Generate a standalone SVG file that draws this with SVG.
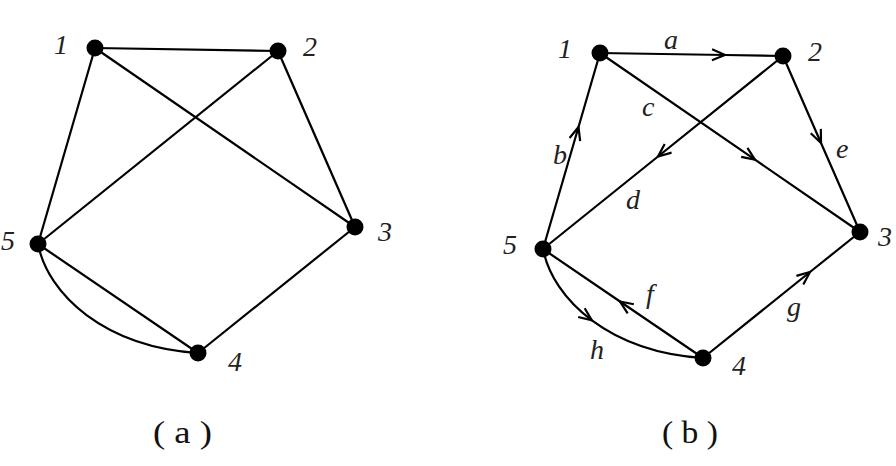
<svg xmlns="http://www.w3.org/2000/svg" width="896" height="466" viewBox="0 0 896 466">
<defs>
<style>
.edge{fill:none;stroke:#000;stroke-width:2.2}
.arr{marker-mid:url(#chev)}
.node{fill:#000}
.lbl{font-family:"Liberation Serif","Times New Roman",serif;font-style:italic;font-size:28px;fill:#222}
.cap{font-family:"Liberation Serif","Times New Roman",serif;font-size:31px;fill:#111}
</style>
<marker id="chev" viewBox="-15 -15 30 30" markerWidth="30" markerHeight="30" refX="0" refY="0" orient="auto" markerUnits="userSpaceOnUse" overflow="visible">
<path d="M-13,-5.5 L0,0 L-13,5.5" fill="none" stroke="#000" stroke-width="2.2"/>
</marker>
</defs>
<rect width="896" height="466" fill="#fff"/>

<!-- Graph (a) -->
<g id="graph-a-edges">
<line class="edge" x1="95" y1="48" x2="278" y2="51"/>
<line class="edge" x1="95" y1="48" x2="355" y2="227"/>
<line class="edge" x1="95" y1="48" x2="38" y2="244"/>
<line class="edge" x1="278" y1="51" x2="355" y2="227"/>
<line class="edge" x1="278" y1="51" x2="38" y2="244"/>
<line class="edge" x1="355" y1="227" x2="198" y2="353"/>
<line class="edge" x1="38" y1="244" x2="198" y2="353"/>
<path class="edge" d="M38,244 C48,295 105,347 198,353"/>
</g>
<g id="a-n1"><circle class="node" cx="95" cy="48" r="8.5"/><text class="lbl" x="54" y="54">1</text></g>
<g id="a-n2"><circle class="node" cx="278" cy="51" r="8.5"/><text class="lbl" x="303" y="56">2</text></g>
<g id="a-n3"><circle class="node" cx="355" cy="227" r="8.5"/><text class="lbl" x="378" y="241">3</text></g>
<g id="a-n4"><circle class="node" cx="198" cy="353" r="8.5"/><text class="lbl" x="228" y="371">4</text></g>
<g id="a-n5"><circle class="node" cx="38" cy="244" r="8.5"/><text class="lbl" x="1" y="250">5</text></g>

<!-- Graph (b) -->
<g id="graph-b-edges">
<path class="edge arr" d="M600,53 L725,55 L783,56"/>
<path class="edge arr" d="M543,249 L578.5,127 L600,53"/>
<path class="edge arr" d="M600,53 L755,159.7 L860,232"/>
<path class="edge arr" d="M783,56 L658,156.5 L543,249"/>
<path class="edge arr" d="M783,56 L821,143 L860,232"/>
<path class="edge arr" d="M703,358 L620,301.5 L543,249"/>
<path class="edge arr" d="M703,358 L810,272 L860,232"/>
<path class="edge arr" d="M543,249 C548,274.5 564.75,300.25 591.875,320.375 C619,340.5 656.5,355 703,358"/>
</g>
<g id="b-edge-labels">
<text class="lbl" x="664" y="49">a</text>
<text class="lbl" x="553" y="164">b</text>
<text class="lbl" x="642" y="116">c</text>
<text class="lbl" x="626" y="209">d</text>
<text class="lbl" x="836" y="158">e</text>
<text class="lbl" x="646" y="303">f</text>
<text class="lbl" x="787" y="316">g</text>
<text class="lbl" x="590" y="359">h</text>
</g>
<g id="b-n1"><circle class="node" cx="600" cy="53" r="8.5"/><text class="lbl" x="558" y="58">1</text></g>
<g id="b-n2"><circle class="node" cx="783" cy="56" r="8.5"/><text class="lbl" x="808" y="61">2</text></g>
<g id="b-n3"><circle class="node" cx="860" cy="232" r="8.5"/><text class="lbl" x="878" y="246">3</text></g>
<g id="b-n4"><circle class="node" cx="703" cy="358" r="8.5"/><text class="lbl" x="732" y="375">4</text></g>
<g id="b-n5"><circle class="node" cx="543" cy="249" r="8.5"/><text class="lbl" x="503" y="254">5</text></g>

<text class="cap" x="153" y="443" textLength="59" lengthAdjust="spacingAndGlyphs">( a )</text>
<text class="cap" x="662" y="443" textLength="56" lengthAdjust="spacingAndGlyphs">( b )</text>
</svg>
